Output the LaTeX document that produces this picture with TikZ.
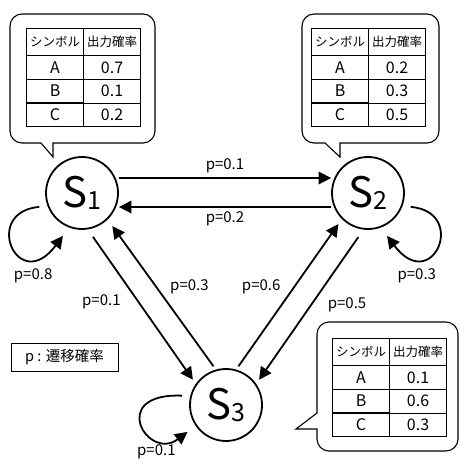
\documentclass[tikz,border=0pt]{standalone}
\usepackage{fontspec}
\setmainfont{Noto Sans CJK JP}
\usetikzlibrary{arrows.meta, matrix}

\newcommand{\stsub}[1]{\raisebox{-2pt}{\fontsize{25}{25}\selectfont #1}}

\tikzset{
	state/.style={circle, draw, line width=1.8pt, minimum size=72pt, inner sep=0pt, font=\fontsize{42}{42}\selectfont},
	trans/.style={line width=1.8pt, -{Triangle[length=12.5pt, width=12.5pt]}},
	prob/.style={font=\fontsize{15}{15}\selectfont, inner sep=1pt},
	bubble/.style={line width=1.1pt},
	outtable/.style={matrix of nodes, inner sep=0pt, column sep=-0.8pt, row sep=-0.8pt,
		nodes={draw, line width=0.8pt, minimum width=57pt, minimum height=23.5pt, inner sep=0pt, font=\fontsize{16}{16}\selectfont},
		row 1/.style={nodes={minimum height=27pt, font=\fontsize{12.5}{12.5}\selectfont}}},
}

\begin{document}
\begin{tikzpicture}[x=1pt, y=-1pt]
	\useasboundingbox (0,0) rectangle (459,464);
	
	\node[state] (s1) at (82,193) {S\stsub{1}};
	\node[state] (s2) at (368,193) {S\stsub{2}};
	\node[state] (s3) at (226,405) {S\stsub{3}};
	
	\draw[trans] ([yshift=15pt]s1.east) -- node[prob, above=3pt] (p12) {p=0.1} ([yshift=15pt]s2.west);
	\draw[trans] ([yshift=-14pt]s2.west) -- node[prob, below=3pt] (p21) {p=0.2} ([yshift=-14pt]s1.east);
	\draw[trans, shorten <=9pt, shorten >=5pt] (s1.-81) -- node[prob, pos=0.47, left=16pt] (p13) {p=0.1} (s3.145);
	\draw[trans, shorten <=4pt, shorten >=8pt] (s3.106) -- node[prob, pos=0.55, right=12pt] (p31) {p=0.3} (s1.-46);
	\draw[trans, shorten <=4pt, shorten >=6pt] (s3.74) -- node[prob, pos=0.55, left=12pt] (p32) {p=0.6} (s2.-135);
	\draw[trans, shorten <=9pt, shorten >=5pt] (s2.-97.6) -- node[prob, pos=0.49, right=15pt] (p23) {p=0.5} (s3.35);
	
	\draw[trans] ([shift={(198:8pt)}]s1.198) .. controls +(-58,5) and +(-45,60) .. node[prob, pos=0.76, below=9pt] (p11) {p=0.8} ([shift={(246:10pt)}]s1.246);
	\draw[trans] ([shift={(-18:8pt)}]s2.-18) .. controls +(58,5) and +(45,60) .. node[prob, pos=0.76, below=9pt] (p22) {p=0.3} ([shift={(-66:10pt)}]s2.-66);
	\draw[trans] ([shift={(168:8pt)}]s3.168) .. controls +(-75,-3) and +(-40,30) .. node[prob, pos=0.72, below=5pt] (p33) {p=0.1} ([shift={(215:10pt)}]s3.215);
	
	\node[draw, line width=0.8pt, minimum width=107pt, minimum height=28pt, font=\fontsize{14.5}{14.5}\selectfont] (legend) at (64.5,357) {p : 遷移確率};
	
	\draw[bubble] (53,143) [rounded corners=12pt] -- (155,143) -- (155,14) -- (10,14) -- (10,143) [sharp corners] -- (41,143) -- (53,157) -- cycle;
	\matrix[outtable, anchor=north west] (t1) at (26,28) {
		シンボル & 出力確率 \\
		A & 0.7 \\
		B & 0.1 \\
		C & 0.2 \\
	};
	
	\draw[bubble] (340,143) [rounded corners=12pt] -- (439,143) -- (439,14) -- (302,14) -- (302,143) [sharp corners] -- (325,143) -- (340,157) -- cycle;
	\matrix[outtable, anchor=north west] (t2) at (311,28) {
		シンボル & 出力確率 \\
		A & 0.2 \\
		B & 0.3 \\
		C & 0.5 \\
	};
	
	\draw[bubble] (317,429) [rounded corners=12pt] -- (317,451) -- (458,451) -- (458,322) -- (317,322) [sharp corners] -- (317,413) -- (296,429) -- cycle;
	\matrix[outtable, anchor=north west] (t3) at (332,338) {
		シンボル & 出力確率 \\
		A & 0.1 \\
		B & 0.6 \\
		C & 0.3 \\
	};
\end{tikzpicture}
\end{document}
